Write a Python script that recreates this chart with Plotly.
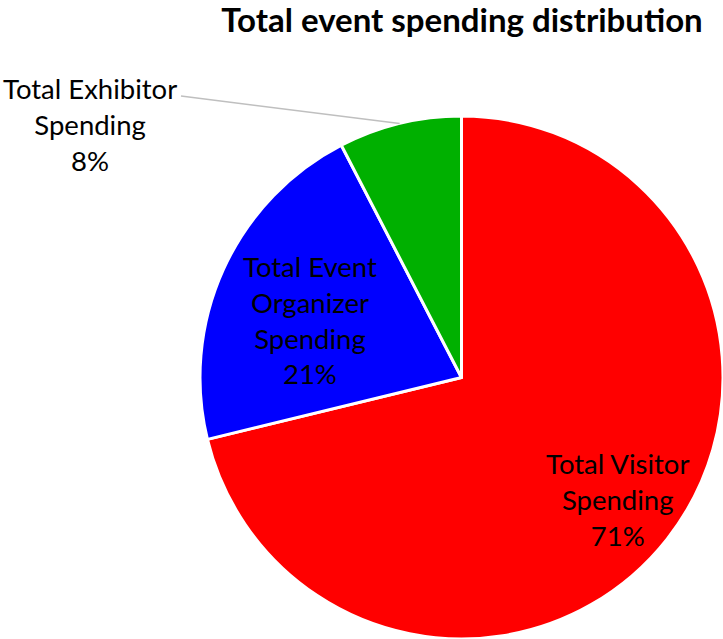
import math
import plotly.graph_objects as go

# ---- data ----
categories = ["Total Visitor Spending", "Total Event Organizer Spending", "Total Exhibitor Spending"]
label_lines = ["Total Visitor<br>Spending", "Total Event<br>Organizer<br>Spending", "Total Exhibitor<br>Spending"]
values = [71.2, 21.2, 7.6]
colors = ["#FF0000", "#0000FF", "#00B000"]
title_text = "Total event spending distribution"

W, H = 723, 639
FONT = "Lato"
LABEL_SIZE = 27.5
total = sum(values)
pcts = [v / total for v in values]

dom_x = [200 / W, 1.0]
dom_y = [0.0, 523 / H]

fig = go.Figure(go.Pie(
    labels=categories,
    values=values,
    textinfo="none",
    sort=False,
    direction="clockwise",
    rotation=0,
    marker=dict(colors=colors, line=dict(color="white", width=3)),
    domain=dict(x=dom_x, y=dom_y),
    showlegend=False,
    hoverinfo="label+percent",
))

# geometry of the pie in pixels (derived from the domain)
r_px = min((dom_x[1] - dom_x[0]) * W, (dom_y[1] - dom_y[0]) * H) / 2
cx_px = (dom_x[0] + dom_x[1]) / 2 * W
cy_px = (1 - (dom_y[0] + dom_y[1]) / 2) * H


def point_at(frac_angle, rad_frac):
    th = frac_angle * 2 * math.pi
    px = cx_px + rad_frac * r_px * math.sin(th)
    py = cy_px - rad_frac * r_px * math.cos(th)
    return px / W, 1 - py / H


cums = [sum(pcts[:i]) for i in range(len(pcts))]
mids = [cums[i] + pcts[i] / 2 for i in range(len(pcts))]

# inside labels (visitor, organizer)
inside_radius = [0.757, 0.62]
inside_shift = [(0, 0), (-4, -10)]
for i in range(2):
    x, y = point_at(mids[i], inside_radius[i])
    fig.add_annotation(xref="paper", yref="paper", x=x, y=y,
                       xanchor="center", yanchor="middle",
                       xshift=inside_shift[i][0], yshift=inside_shift[i][1],
                       text=f"{label_lines[i]}<br>{round(pcts[i]*100)}%",
                       showarrow=False, align="center",
                       font=dict(family=FONT, size=LABEL_SIZE, color="black"))

# outside label with leader line (exhibitor)
tx, ty = point_at(mids[2], 1.0)
lab_x, lab_y = 90, 124
line_end_x, line_end_y = 181, 96
fig.add_shape(type="line", xref="paper", yref="paper",
              x0=tx, y0=ty, x1=line_end_x / W, y1=1 - line_end_y / H,
              line=dict(color="#BFBFBF", width=1.5))
fig.add_annotation(xref="paper", yref="paper",
                   x=lab_x / W, y=1 - lab_y / H,
                   xanchor="center", yanchor="middle",
                   text=f"{label_lines[2]}<br>{round(pcts[2]*100)}%",
                   showarrow=False, align="center",
                   font=dict(family=FONT, size=LABEL_SIZE, color="black"))

fig.update_layout(
    width=W, height=H,
    margin=dict(l=0, r=0, t=0, b=0),
    paper_bgcolor="white", plot_bgcolor="white",
    title=dict(text=f"<b>{title_text}</b>", x=462 / W, xanchor="center",
               y=1 - 20 / H, yanchor="middle", yref="container",
               font=dict(family=FONT, size=33, color="black")),
)

fig.write_html("out.html",
               config={"displayModeBar": False},
               post_script="document.body.style.margin='0';document.body.style.overflow='hidden';")
